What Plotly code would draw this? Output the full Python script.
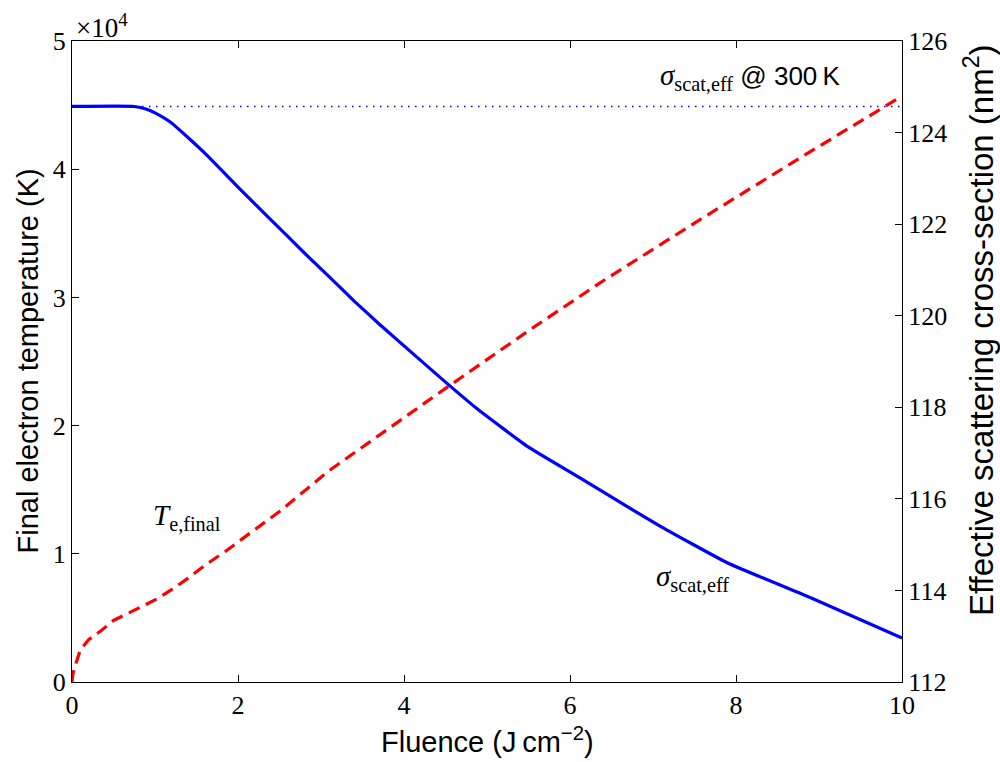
import plotly.graph_objects as go

# ---- data ----
fluence_T = [0, 0.01, 0.04, 0.1, 0.2, 0.35, 0.5, 0.75, 1.0, 1.2, 1.4, 1.6, 1.85,
             2.1, 2.5, 3.1, 3.9, 4.5, 5.5, 6.4, 7.6, 8.8, 10]
temp_final = [0, 600, 1300, 2500, 3300, 4000, 4800, 5600, 6400, 7200, 8100, 9100, 10200,
              11400, 13300, 16500, 20200, 22900, 27400, 31300, 36200, 41000, 45700]

fluence_sigma = [0, 0.75, 0.9, 1.0, 1.2, 1.6, 2.0, 2.4, 2.8, 3.1, 3.4, 3.7, 4.5, 4.9,
                 5.5, 6.1, 6.7, 7.1, 7.9, 8.9, 10]
sigma_eff = [124.57, 124.57, 124.51, 124.43, 124.21, 123.55, 122.81, 122.09, 121.37,
             120.85, 120.32, 119.82, 118.55, 117.94, 117.13, 116.48, 115.82, 115.39,
             114.60, 113.84, 112.96]

sigma_300K_x = [0, 10]
sigma_300K = [124.57, 124.57]

x_ticks = [0, 2, 4, 6, 8, 10]
left_tick_vals = [0, 10000, 20000, 30000, 40000, 50000]
left_tick_text = ["0", "1", "2", "3", "4", "5"]
right_ticks = [112, 114, 116, 118, 120, 122, 124, 126]

SERIF = "Liberation Serif, DejaVu Serif, serif"
SANS = "Liberation Sans, Arial, sans-serif"

fig = go.Figure()
fig.add_trace(go.Scatter(x=fluence_T, y=temp_final, mode="lines", yaxis="y",
                         line=dict(color="#ff0000", width=3.2, dash="12px,7px"),
                         showlegend=False, hoverinfo="skip"))
fig.add_trace(go.Scatter(x=sigma_300K_x, y=sigma_300K, mode="lines", yaxis="y2",
                         line=dict(color="#0000ff", width=1.5, dash="1.5px,5.5px"),
                         showlegend=False, hoverinfo="skip"))
fig.add_trace(go.Scatter(x=fluence_sigma, y=sigma_eff, mode="lines", yaxis="y2",
                         line=dict(color="#0000ff", width=3.2, shape="spline", smoothing=0.4),
                         showlegend=False, hoverinfo="skip"))

axis_common = dict(ticks="inside", ticklen=7, tickwidth=1, tickcolor="black",
                   showline=True, linecolor="black", linewidth=1.3,
                   showgrid=False, zeroline=False,
                   tickfont=dict(family=SERIF, size=26, color="black"))

fig.update_layout(
    width=1000, height=762,
    margin=dict(l=72, r=98, t=41, b=80),
    paper_bgcolor="white", plot_bgcolor="white",
    xaxis=dict(range=[0, 10], tickvals=x_ticks, mirror="ticks", **axis_common),
    yaxis=dict(range=[0, 50000], tickvals=left_tick_vals, ticktext=left_tick_text,
               **axis_common),
    yaxis2=dict(range=[112, 126], tickvals=right_ticks, overlaying="y", side="right",
                anchor="x", **axis_common),
)

annotations = [
    # axis titles
    dict(text="Fluence (J\u2009cm<sup>\u22122</sup>)", xref="paper", yref="paper",
         x=0.5, y=0, yshift=-58, showarrow=False, xanchor="center", yanchor="middle",
         font=dict(family=SANS, size=29, color="black")),
    dict(text="Final electron temperature (K)", xref="paper", yref="paper",
         x=0, y=0.5, xshift=-45, textangle=-90, showarrow=False,
         xanchor="center", yanchor="middle",
         font=dict(family=SANS, size=29, color="black")),
    dict(text="Effective scattering cross-section (nm<sup>2</sup>)", xref="paper", yref="paper",
         x=1, y=0.549, xshift=77, textangle=-90, showarrow=False,
         xanchor="center", yanchor="middle",
         font=dict(family=SANS, size=33, color="black")),
    # exponent
    dict(text="\u00d710<sup>4</sup>", xref="paper", yref="paper", x=0, y=1,
         xshift=2, yshift=-4, showarrow=False, xanchor="left", yanchor="bottom",
         font=dict(family=SERIF, size=27, color="black")),
    # curve labels
    dict(text="<i>T</i><sub>e,final</sub>", xref="x", yref="y", x=1.39, y=12870,
         showarrow=False, xanchor="center", yanchor="middle",
         font=dict(family=SERIF, size=29, color="black")),
    dict(text="<i>σ</i><sub>scat,eff</sub>", xref="x", yref="y", x=7.48, y=8110,
         showarrow=False, xanchor="center", yanchor="middle",
         font=dict(family=SERIF, size=29, color="black")),
    dict(text="<i>σ</i><sub>scat,eff</sub> <span style=\"font-family:Liberation Sans, Arial, sans-serif;font-size:26px\">@ 300\u2009K</span>",
         xref="x", yref="y", x=8.17, y=47190,
         showarrow=False, xanchor="center", yanchor="middle",
         font=dict(family=SERIF, size=29, color="black")),
]
fig.update_layout(annotations=annotations)

fig.write_html("out.html")
